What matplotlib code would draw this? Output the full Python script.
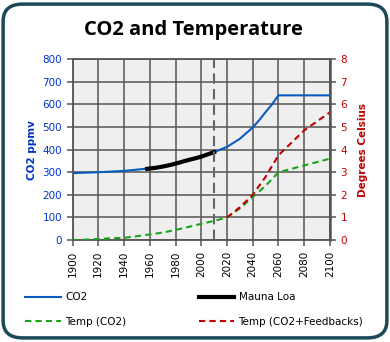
import numpy as np
import matplotlib.pyplot as plt
from matplotlib.patches import FancyBboxPatch

# CO2 scenario (ppmv)
co2_years = [1900, 1920, 1940, 1960, 1970, 1980, 1990, 2000, 2010, 2020, 2030, 2040, 2045, 2050, 2055, 2060, 2080, 2100]
co2_vals = [296, 300, 306, 317, 326, 339, 354, 370, 389, 412, 448, 498, 530, 566, 600, 640, 640, 640]

# Mauna Loa measurements
ml_years = [1958, 1965, 1970, 1975, 1980, 1985, 1990, 1995, 2000, 2005, 2010]
ml_vals = [315, 320, 325, 331, 338, 346, 354, 361, 369, 379, 389]

# temperature (deg C)
t_years = [1900, 1910, 1920, 1930, 1940, 1950, 1960, 1970, 1980, 1990, 2000, 2010, 2020, 2030, 2040, 2050, 2060, 2070, 2080, 2090, 2100]
t_co2 = [0.0, 0.02, 0.05, 0.08, 0.1, 0.17, 0.25, 0.33, 0.45, 0.58, 0.72, 0.85, 1.0, 1.4, 1.9, 2.4, 3.0, 3.15, 3.3, 3.45, 3.6]
fb_years = [2020, 2030, 2040, 2050, 2060, 2070, 2080, 2090, 2100]
t_fb = [1.0, 1.45, 2.0, 2.8, 3.75, 4.3, 4.85, 5.25, 5.65]

now_year = 2010

blue = '#0a5bbf'
tblue = '#0033cc'
dred = '#c00000'
grey = '#555555'

plt.rcParams['font.family'] = 'DejaVu Sans'
fig = plt.figure(figsize=(3.9, 3.42), dpi=100)

frame = FancyBboxPatch((0.008, 0.012), 0.984, 0.976, boxstyle='round,pad=0,rounding_size=0.05',
                       transform=fig.transFigure, facecolor='white', edgecolor='#1d4a58',
                       linewidth=2.5, zorder=-5)
fig.patches.append(frame)

ax = fig.add_axes([0.186, 0.298, 0.660, 0.529])
ax.set_facecolor('#efefef')
ax2 = ax.twinx()

l1, = ax.plot(co2_years, co2_vals, color=blue, lw=1.5, label='CO2')
l2, = ax.plot(ml_years, ml_vals, color='black', lw=3, label='Mauna Loa')
ax.axvline(now_year, color='#666666', lw=1.5, ls=(0, (5, 2.5)))
l3, = ax2.plot(t_years, t_co2, color='#1aa31a', lw=1.5, ls=(0, (3, 2)), label='Temp (CO2)')
l4, = ax2.plot(fb_years, t_fb, color=dred, lw=1.5, ls=(0, (3, 2)), label='Temp (CO2+Feedbacks)')

ax.set_xlim(1900, 2100)
ax.set_ylim(0, 800)
ax2.set_ylim(0, 8)
ax.set_xticks(np.arange(1900, 2101, 20))
ax.set_yticks(np.arange(0, 801, 100))
ax2.set_yticks(np.arange(0, 9, 1))
ax.grid(True, color=grey, lw=1.1)
ax.set_axisbelow(True)

for s in ax.spines.values():
    s.set_color(grey)
    s.set_linewidth(1.3)
for s in ax2.spines.values():
    s.set_visible(False)
ax2.spines['right'].set_visible(True)
ax2.spines['right'].set_color(grey)
ax2.spines['right'].set_linewidth(1.8)

ax.tick_params(axis='x', colors=grey, labelcolor='black', labelsize=7.5, labelrotation=90, length=4, width=1.1)
ax.tick_params(axis='y', colors=grey, labelcolor=tblue, labelsize=7.5, length=4, width=1.1)
ax2.tick_params(axis='y', colors=grey, labelcolor=dred, labelsize=7.5, length=4, width=1.1)

ax.set_ylabel('CO2 ppmv', color=tblue, fontsize=7.5, fontweight='bold', labelpad=4)
ax2.set_ylabel('Degrees Celsius', color=dred, fontsize=7.5, fontweight='bold', rotation=90, labelpad=8)

fig.text(0.497, 0.912, 'CO2 and Temperature', ha='center', va='center',
         fontsize=14.5, fontweight='bold', family='Open Sans')

fig.legend([l1, l3, l2, l4], ['CO2', 'Temp (CO2)', 'Mauna Loa', 'Temp (CO2+Feedbacks)'],
           loc='upper left', bbox_to_anchor=(0.065, 0.145), ncol=2, frameon=False,
           fontsize=7.5, handlelength=3.4, handletextpad=0.4, columnspacing=7.0,
           labelspacing=1.4, borderaxespad=0, borderpad=0)

fig.savefig('out.png', dpi=100)
